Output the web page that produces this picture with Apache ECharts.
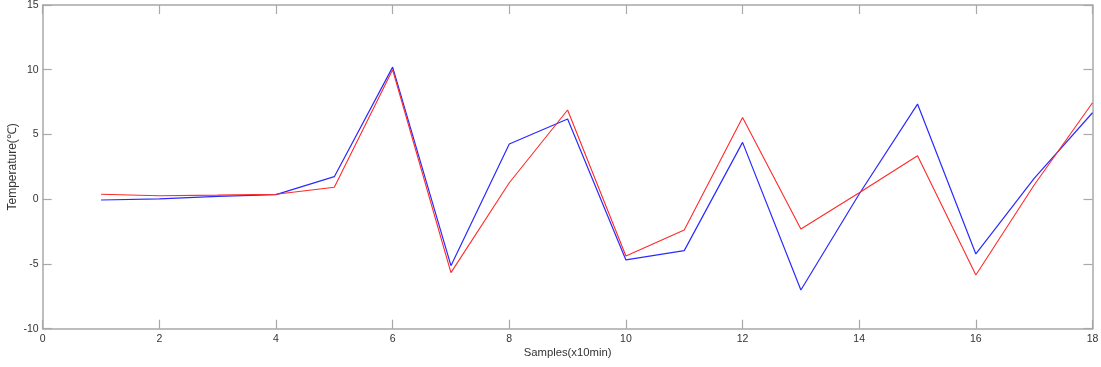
<!DOCTYPE html>
<html>
<head>
<meta charset="utf-8">
<script src="https://cdn.jsdelivr.net/npm/echarts@6/dist/echarts.min.js"></script>
<style>html,body{margin:0;padding:0;background:#fff}#c{width:1101px;height:367px}</style>
</head>
<body>
<div id="c"></div>
<script>
const samples = [1,2,3,4,5,6,7,8,9,10,11,12,13,14,15,16,17,18];
const redSeries  = [0.38,0.27,0.32,0.38,0.92,10.0,-5.67,1.27,6.89,-4.39,-2.38,6.32,-2.30,0.5,3.36,-5.85,1.1,7.45];
const blueSeries = [-0.06,0.02,0.22,0.35,1.74,10.2,-5.13,4.26,6.19,-4.69,-3.97,4.39,-7.01,0.4,7.35,-4.23,1.61,6.68];
const xTicks = {min:0, max:18, interval:2};
const yTicks = {min:-10, max:15, interval:5};

const font = 'Liberation Sans, Arial, sans-serif';
const axisCol = '#a8a8a8';
const labelCol = '#333';
const lineStyle = {color: axisCol, width: 1.5};
const tickStyle = {show: true, inside: true, length: 9, lineStyle: {color: axisCol, width: 1.2}};

const chart = echarts.init(document.getElementById('c'), null, {renderer: 'canvas'});
chart.setOption({
  animation: false,
  backgroundColor: '#fff',
  grid: {left: 42.7, right: 8.5, top: 5, bottom: 38.3, containLabel: false, outerBoundsMode: 'none'},
  xAxis: [
    {type: 'value', position: 'bottom', min: xTicks.min, max: xTicks.max, interval: xTicks.interval,
     axisLine: {show: true, onZero: false, lineStyle}, axisTick: tickStyle,
     axisLabel: {color: labelCol, fontFamily: font, fontSize: 10.5, margin: 5},
     splitLine: {show: false},
     name: 'Samples(x10min)', nameLocation: 'middle', nameGap: 19, nameMoveOverlap: false,
     nameTextStyle: {color: labelCol, fontFamily: font, fontSize: 11.3}},
    {type: 'value', position: 'top', min: xTicks.min, max: xTicks.max, interval: xTicks.interval,
     axisLine: {show: true, onZero: false, lineStyle}, axisTick: tickStyle,
     axisLabel: {show: false}, splitLine: {show: false}}
  ],
  yAxis: [
    {type: 'value', position: 'left', min: yTicks.min, max: yTicks.max, interval: yTicks.interval,
     axisLine: {show: true, onZero: false, lineStyle}, axisTick: tickStyle,
     axisLabel: {color: labelCol, fontFamily: font, fontSize: 10.5, margin: 4},
     splitLine: {show: false},
     name: 'Temperature(\u2103)', nameLocation: 'middle', nameGap: 24, nameMoveOverlap: false,
     nameTextStyle: {color: labelCol, fontFamily: font, fontSize: 12}},
    {type: 'value', position: 'right', min: yTicks.min, max: yTicks.max, interval: yTicks.interval,
     axisLine: {show: true, onZero: false, lineStyle}, axisTick: tickStyle,
     axisLabel: {show: false}, splitLine: {show: false}}
  ],
  series: [
    {type: 'line', data: samples.map((x, i) => [x, blueSeries[i]]), showSymbol: false,
     lineStyle: {color: '#2a2aff', width: 1.2}, itemStyle: {color: '#2a2aff'}},
    {type: 'line', data: samples.map((x, i) => [x, redSeries[i]]), showSymbol: false,
     lineStyle: {color: '#ff2a2a', width: 1.1}, itemStyle: {color: '#ff2a2a'}}
  ]
});
</script>
</body>
</html>
